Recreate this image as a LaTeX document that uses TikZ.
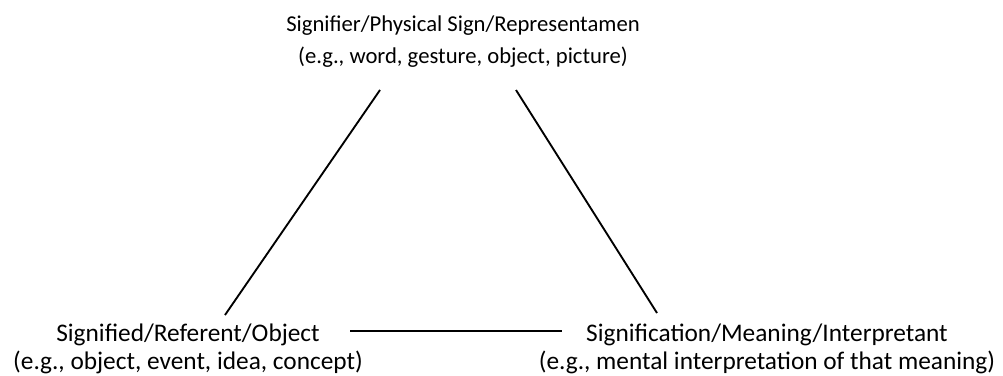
\documentclass[tikz,border=0pt]{standalone}
\usepackage{fontspec}
\setmainfont{Carlito}
\begin{document}
\begin{tikzpicture}[x=0.75pt, y=-0.75pt, line width=1.4pt,
  label text/.style={align=center, inner sep=0pt}]
  \useasboundingbox (0,0) rectangle (1003,375);
  \node[label text, font=\fontsize{17}{24}\selectfont] (sign) at (463,42) {Signifier/Physical Sign/Representamen\\(e.g., word, gesture, object, picture)};
  \node[label text, font=\fontsize{19}{20.5}\selectfont] (referent) at (188,349) {Signified/Referent/Object\\(e.g., object, event, idea, concept)};
  \node[label text, font=\fontsize{19}{20.5}\selectfont] (meaning) at (767,349) {Signification/Meaning/Interpretant\\(e.g., mental interpretation of that meaning)};
  \draw ([shift={(-83,48)}]sign.center) -- ([shift={(37,-34)}]referent.center);
  \draw ([shift={(53,48)}]sign.center) -- ([shift={(-110,-36)}]meaning.center);
  \draw[line width=2.1pt] ([shift={(162,-18)}]referent.center) -- ([shift={(-205,-18)}]meaning.center);
\end{tikzpicture}
\end{document}
